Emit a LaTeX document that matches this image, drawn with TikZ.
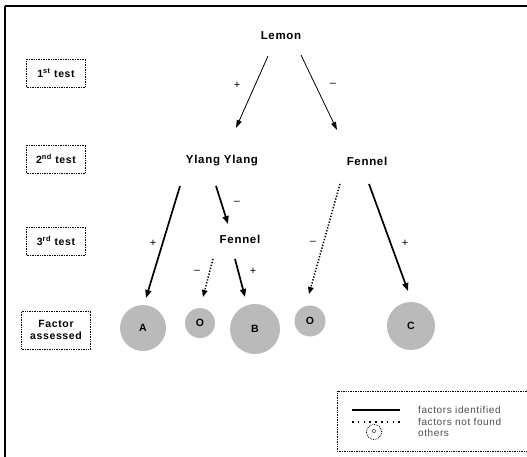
\documentclass[tikz,border=0pt]{standalone}
\usepackage{fontspec}
\setmainfont{Liberation Sans}[LetterSpace=6]
\usetikzlibrary{arrows.meta,calc}
\begin{document}
\begin{tikzpicture}[x=1pt,y=-1pt,
  plant/.style={font=\fontsize{11.5}{13}\selectfont\bfseries, inner sep=1pt},
  testbox/.style={draw, densely dotted, line width=0.7pt, minimum width=59pt, minimum height=28pt, font=\fontsize{10.5}{12.5}\selectfont\bfseries, inner sep=1pt, align=center},
  factor/.style={circle, fill=black!27, inner sep=0pt, font=\fontsize{10.5}{12}\selectfont\bfseries},
  sign/.style={font=\fontsize{11}{13}\selectfont, inner sep=0pt},
  thin arrow/.style={line width=0.8pt, -{Triangle[length=8pt,width=5pt]}},
  thick arrow/.style={line width=1.7pt, -{Triangle[length=8pt,width=6pt]}},
  dot arrow/.style={line width=1.5pt, dash pattern=on 1.3pt off 1.7pt, -{Triangle[length=7pt,width=5.5pt]}},
  legtext/.style={font=\fontsize{10}{12}\selectfont, text=black!70, anchor=west, inner sep=0pt}]
\useasboundingbox (0,0) rectangle (527,457);
% frame
\draw[line width=2pt] (5,457) -- (5,6);
\draw[line width=1.4pt] (5,6) -- (527,6);
% left labels
\node[testbox] (t1) at (56,73) {1\textsuperscript{st} test};
\node[testbox] (t2) at (56,159) {2\textsuperscript{nd} test};
\node[testbox] (t3) at (56,241) {3\textsuperscript{rd} test};
\node[testbox, minimum width=69pt, minimum height=38pt] (t4) at (56,330) {Factor\\assessed};
% plants
\node[plant] (lemon) at (281,36) {Lemon};
\node[plant] (ylang) at (222,161) {Ylang Ylang};
\node[plant] (fen2) at (367,161) {Fennel};
\node[plant] (fen3) at (240,239) {Fennel};
% factors
\node[factor, minimum size=46pt] (A) at (143,328) {A};
\node[factor, minimum size=30pt] (O1) at (200,323) {O};
\node[factor, minimum size=50pt] (B) at (255,329) {B};
\node[factor, minimum size=31pt] (O2) at (310,321) {O};
\node[factor, minimum size=48pt] (C) at (411,326) {C};
% arrows
\draw[thin arrow] ($(lemon)+(-13,20)$) -- ($(ylang)+(14,-33)$);
\draw[thin arrow] ($(lemon)+(20,19)$) -- ($(fen2)+(-30,-31)$);
\draw[thick arrow] ($(ylang)+(-42,25)$) -- ($(A)+(3,-30)$);
\draw[thick arrow] ($(ylang)+(-6,25)$) -- ($(fen3)+(-12,-15)$);
\draw[dot arrow] ($(fen3)+(-27,20)$) -- ($(O1)+(3,-26)$);
\draw[thick arrow] ($(fen3)+(-5,20)$) -- ($(B)+(-10,-32)$);
\draw[dot arrow] ($(fen2)+(-27,23)$) -- ($(O2)+(-1,-27)$);
\draw[thick arrow] ($(fen2)+(2,23)$) -- ($(C)+(-3,-35)$);
% signs
\node[sign] (s1) at (237,85) {+};
\node[sign] (s2) at (333,85) {--};
\node[sign] (s3) at (153,243) {+};
\node[sign] (s4) at (237,203) {--};
\node[sign] (s5) at (197,272) {--};
\node[sign] (s6) at (253,271) {+};
\node[sign] (s7) at (313,243) {--};
\node[sign] (s8) at (405,243) {+};
% legend
\draw[densely dotted, line width=0.7pt] (527,391) -- (337,391) -- (337,451) -- (527,451);
\coordinate (l1a) at (352,410); \coordinate (l1b) at (400,410);
\coordinate (l2a) at (352,422); \coordinate (l2b) at (400,422);
\draw[line width=1.3pt] (l1a) -- (l1b);
\draw[line width=1.4pt, dash pattern=on 1.6pt off 4.2pt] (l2a) -- (l2b);
\node[circle, draw, densely dotted, line width=0.8pt, minimum size=15pt, inner sep=0pt, font=\fontsize{7}{8}\selectfont] (lc) at (374,432) {o};
\node[legtext] (lt1) at (418,410) {factors identified};
\node[legtext] (lt2) at (418,422) {factors not found};
\node[legtext] (lt3) at (418,433) {others};
\end{tikzpicture}
\end{document}
